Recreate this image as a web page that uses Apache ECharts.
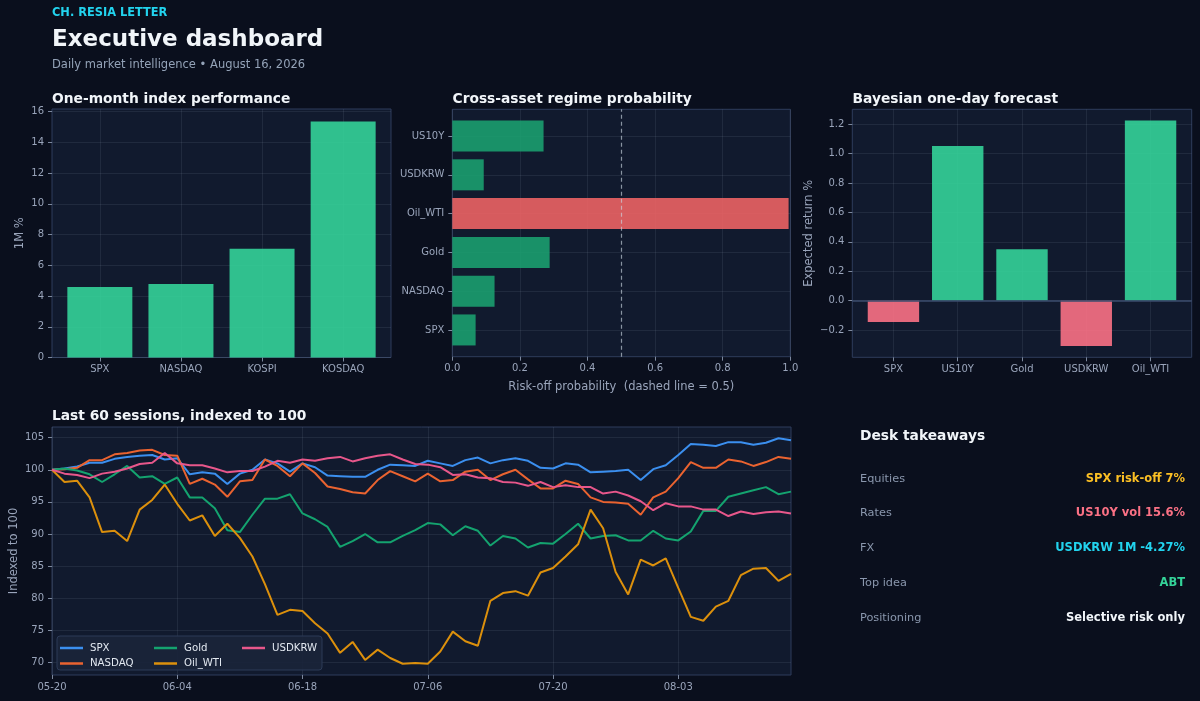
<!DOCTYPE html>
<html><head><meta charset="utf-8">
<script src="https://cdn.jsdelivr.net/npm/echarts@6/dist/echarts.min.js"></script>
<style>html,body{margin:0;padding:0;background:#0a0f1d;}#c{width:1200px;height:701px;}</style>
</head><body><div id="c"></div>
<script>
// ---------- data ----------
const perfCats = ['SPX', 'NASDAQ', 'KOSPI', 'KOSDAQ'];
const perfVals = [4.58, 4.78, 7.08, 15.35];
const perfTicks = [0, 2, 4, 6, 8, 10, 12, 14, 16];

const regimeCats = ['SPX', 'NASDAQ', 'Gold', 'Oil_WTI', 'USDKRW', 'US10Y'];
const regimeVals = [0.069, 0.125, 0.288, 0.995, 0.093, 0.27];
const regimeTicks = [0, 0.2, 0.4, 0.6, 0.8, 1.0];
const regimeThreshold = 0.5;

const fcCats = ['SPX', 'US10Y', 'Gold', 'USDKRW', 'Oil_WTI'];
const fcVals = [-0.145, 1.053, 0.349, -0.309, 1.225];
const fcTicks = [-0.2, 0, 0.2, 0.4, 0.6, 0.8, 1.0, 1.2];

const sessionDates = ['05-20','05-21','05-22','05-26','05-27','05-28','05-29','06-01','06-02','06-03',
  '06-04','06-05','06-08','06-09','06-10','06-11','06-12','06-15','06-16','06-17',
  '06-18','06-22','06-23','06-24','06-25','06-26','06-29','06-30','07-01','07-02',
  '07-06','07-07','07-08','07-09','07-10','07-13','07-14','07-15','07-16','07-17',
  '07-20','07-21','07-22','07-23','07-24','07-27','07-28','07-29','07-30','07-31',
  '08-03','08-04','08-05','08-06','08-07','08-10','08-11','08-12','08-13','08-14'];
const lineTicks = [70, 75, 80, 85, 90, 95, 100, 105];

const spx = [100.0,100.2,100.5,101.1,101.1,101.7,102.0,102.2,102.3,101.6,
  101.8,99.3,99.6,99.4,97.8,99.4,100.0,101.6,101.0,99.7,
  101.0,100.4,99.1,99.0,98.9,98.9,100.0,100.8,100.7,100.6,
  101.4,101.0,100.6,101.5,101.9,101.0,101.5,101.8,101.4,100.3,
  100.2,101.0,100.8,99.6,99.7,99.8,100.0,98.4,100.1,100.7,
  102.3,104.0,103.9,103.7,104.3,104.3,103.9,104.2,104.9,104.6];
const nasdaq = [100.0,100.1,100.3,101.5,101.5,102.4,102.6,103.0,103.1,102.3,
  102.2,97.8,98.6,97.7,95.8,98.2,98.4,101.6,100.6,99.0,
  101.0,99.5,97.4,97.0,96.5,96.3,98.4,99.8,99.0,98.2,
  99.4,98.2,98.4,99.7,100.0,98.4,99.3,100.0,98.5,97.1,
  97.1,98.3,97.8,95.7,95.0,94.9,94.7,93.0,95.7,96.6,
  98.7,101.2,100.3,100.3,101.6,101.3,100.6,101.2,102.0,101.7];
const gold = [100.0,100.2,99.9,99.3,98.1,99.3,100.6,98.8,99.0,97.8,
  98.8,95.7,95.7,94.0,90.6,90.3,93.0,95.5,95.5,96.2,
  93.2,92.3,91.1,88.0,88.9,90.0,88.7,88.7,89.7,90.6,
  91.7,91.5,89.8,91.2,90.5,88.2,89.7,89.3,87.9,88.6,
  88.5,90.0,91.6,89.3,89.7,89.8,89.0,89.0,90.5,89.3,
  89.0,90.4,93.6,93.6,95.8,96.3,96.8,97.3,96.2,96.6];
const oilWti = [100.0,98.1,98.3,95.7,90.3,90.5,88.9,93.8,95.3,97.7,
  94.7,92.1,92.9,89.7,91.6,89.4,86.5,82.2,77.4,78.2,
  78.0,76.1,74.5,71.5,73.2,70.4,72.0,70.7,69.8,69.9,
  69.8,71.7,74.8,73.3,72.6,79.6,80.8,81.1,80.4,84.0,
  84.7,86.5,88.4,93.8,90.9,84.1,80.6,86.0,85.1,86.2,
  81.6,77.1,76.5,78.7,79.6,83.6,84.6,84.7,82.7,83.8];
const usdkrw = [100.0,99.4,99.2,98.7,99.4,99.7,100.2,100.9,101.1,102.6,
  101.0,100.7,100.7,100.2,99.6,99.8,99.8,100.5,101.4,101.1,
  101.6,101.4,101.8,102.0,101.3,101.8,102.2,102.4,101.6,100.9,
  100.8,100.4,99.2,99.3,98.8,98.7,98.1,98.0,97.5,98.1,
  97.3,97.6,97.3,97.3,96.3,96.6,96.0,95.1,93.7,94.8,
  94.3,94.3,93.8,93.8,92.8,93.5,93.1,93.4,93.5,93.2];

const seriesNames = ['SPX', 'NASDAQ', 'Gold', 'Oil_WTI', 'USDKRW'];
const seriesData = [spx, nasdaq, gold, oilWti, usdkrw];
const seriesColors = ['#3b8fef', '#ea6330', '#14a36f', '#dc900c', '#e8578b'];

const takeawayLabels = ['Equities', 'Rates', 'FX', 'Top idea', 'Positioning'];
const takeawayValues = ['SPX risk-off 7%', 'US10Y vol 15.6%', 'USDKRW 1M -4.27%', 'ABT', 'Selective risk only'];
const takeawayColors = ['#fbbf24', '#fb7185', '#22d3ee', '#34d399', '#f1f5f9'];

// ---------- style ----------
const FONT = '"DejaVu Sans", "Noto Sans", sans-serif';
const LABEL = '#9aa5bb';
const BORDER = '#2f3d5c';
const TICK = '#7c889e';
const SPLIT = 'rgba(148,163,184,0.12)';
const PLOT_BG = '#111a2e';
const GREEN = '#34d399', RED = '#fb7185';
const G2 = '#1b9e6f', R2 = '#ec6364';

function gridBox(o, show) {
  return Object.assign({ show: show !== false, backgroundColor: PLOT_BG, borderColor: BORDER, borderWidth: 1, containLabel: false, outerBoundsMode: 'none' }, o);
}
function tickStyle(values) {
  return { show: true, length: 4, lineStyle: { color: TICK }, customValues: values };
}
function labelStyle(values, formatter, margin) {
  const o = { color: LABEL, fontSize: 10, fontFamily: FONT, margin: margin, customValues: values };
  if (formatter) o.formatter = formatter;
  return o;
}
function valAxis(o) {
  return Object.assign({
    type: 'value',
    axisLine: { show: false, onZero: false },
    splitLine: { show: true, lineStyle: { color: SPLIT, width: 1 } },
    nameTextStyle: { color: LABEL, fontSize: 11.5, fontFamily: FONT },
    nameMoveOverlap: false,
  }, o);
}
const fmt1 = v => (v < 0 ? '\u2212' : '') + Math.abs(v).toFixed(1);
const idx = arr => arr.map((_, i) => i);

const regimeUnit = 247.4 / 6.38;

const graphics = [
  { type: 'text', x: 52, y: 13, style: { text: 'CH. RESIA LETTER', fill: '#22d3ee', font: 'bold 11.4px ' + FONT, textVerticalAlign: 'middle' } },
  { type: 'text', x: 52, y: 40, style: { text: 'Executive dashboard', fill: '#f1f5f9', font: 'bold 23px ' + FONT, textVerticalAlign: 'middle' } },
  { type: 'text', x: 52, y: 65.5, style: { text: 'Daily market intelligence \u2022 August 16, 2026', fill: '#94a3b8', font: '11.5px ' + FONT, textVerticalAlign: 'middle' } },
  { type: 'text', x: 52, y: 99, style: { text: 'One-month index performance', fill: '#f1f5f9', font: 'bold 13.8px ' + FONT, textVerticalAlign: 'middle' } },
  { type: 'text', x: 452.5, y: 99, style: { text: 'Cross-asset regime probability', fill: '#f1f5f9', font: 'bold 13.8px ' + FONT, textVerticalAlign: 'middle' } },
  { type: 'text', x: 852.5, y: 99, style: { text: 'Bayesian one-day forecast', fill: '#f1f5f9', font: 'bold 13.8px ' + FONT, textVerticalAlign: 'middle' } },
  { type: 'text', x: 52, y: 416.5, style: { text: 'Last 60 sessions, indexed to 100', fill: '#f1f5f9', font: 'bold 13.8px ' + FONT, textVerticalAlign: 'middle' } },
  { type: 'text', x: 860, y: 436, style: { text: 'Desk takeaways', fill: '#f1f5f9', font: 'bold 13.8px ' + FONT, textVerticalAlign: 'middle' } },
  { type: 'rect', z: 3, shape: { x: 57, y: 636, width: 265, height: 34, r: 3 }, style: { fill: 'rgba(26,36,58,0.92)', stroke: '#2c3a56', lineWidth: 1 } },
];
const rowY = [479, 513.5, 548.5, 583, 618];
takeawayLabels.forEach((t, i) => {
  graphics.push({ type: 'text', x: 860, y: rowY[i], style: { text: t, fill: '#8a97ad', font: '11.3px ' + FONT, textVerticalAlign: 'middle' } });
  graphics.push({ type: 'text', x: 1185, y: rowY[i], style: { text: takeawayValues[i], fill: takeawayColors[i], font: 'bold 11.5px ' + FONT, textAlign: 'right', textVerticalAlign: 'middle' } });
});

const legendPos = [[60, 643], [60, 658.5], [154, 643], [154, 658.5], [242, 643]];
const legends = seriesNames.map((n, i) => ({
  data: [n], left: legendPos[i][0], top: legendPos[i][1], padding: 0, z: 10,
  icon: 'rect', itemWidth: 23, itemHeight: 2.5, itemGap: 0, selectedMode: false,
  textStyle: { color: '#e2e8f0', fontSize: 10.2, fontFamily: FONT, padding: [0, 0, 0, 2] },
}));

const option = {
  backgroundColor: '#0a0f1d',
  animation: false,
  textStyle: { fontFamily: FONT },
  graphic: graphics,
  legend: legends,
  grid: [
    gridBox({ left: 52, top: 109, width: 339, height: 248.5 }),
    gridBox({ left: 452.3, top: 109.3, width: 338, height: 247.4 }),
    gridBox({ left: 452.3, top: 109.3 + (0.69 - 0.5) * regimeUnit, width: 338, height: 6 * regimeUnit }, false),
    gridBox({ left: 852.3, top: 109.3, width: 339.4, height: 248 }),
    gridBox({ left: 52, top: 427, width: 739, height: 248 }),
  ],
  xAxis: [
    valAxis({ gridIndex: 0, min: -0.59, max: 3.59,
      axisLabel: labelStyle(idx(perfCats), v => perfCats[Math.round(v)], 7),
      axisTick: tickStyle(idx(perfCats)) }),
    valAxis({ gridIndex: 1, min: 0, max: 1,
      name: 'Risk-off probability  (dashed line = 0.5)', nameLocation: 'middle', nameGap: 24,
      axisLabel: labelStyle(regimeTicks, v => fmt1(v), 7),
      axisTick: tickStyle(regimeTicks) }),
    { type: 'value', gridIndex: 2, min: 0, max: 1, show: false },
    valAxis({ gridIndex: 3, min: -0.64, max: 4.64,
      axisLabel: labelStyle(idx(fcCats), v => fcCats[Math.round(v)], 7),
      axisTick: tickStyle(idx(fcCats)) }),
    { type: 'category', gridIndex: 4, data: sessionDates, boundaryGap: false,
      axisLine: { show: false, onZero: false },
      axisTick: { show: true, length: 4, interval: 9, lineStyle: { color: TICK } },
      axisLabel: { color: LABEL, fontSize: 10, fontFamily: FONT, margin: 7, interval: 9 },
      splitLine: { show: true, interval: 9, lineStyle: { color: SPLIT } } },
  ],
  yAxis: [
    valAxis({ gridIndex: 0, min: 0, max: 16.17, name: '1M %', nameLocation: 'middle', nameGap: 26,
      axisLabel: labelStyle(perfTicks, null, 8),
      axisTick: tickStyle(perfTicks) }),
    valAxis({ gridIndex: 1, min: -0.69, max: 5.69,
      axisLabel: labelStyle(idx(regimeCats), v => regimeCats[Math.round(v)], 8),
      axisTick: tickStyle(idx(regimeCats)) }),
    { type: 'category', gridIndex: 2, data: regimeCats, show: false },
    valAxis({ gridIndex: 3, min: -0.386, max: 1.302, name: 'Expected return %', nameLocation: 'middle', nameGap: 37,
      axisLabel: labelStyle(fcTicks, v => fmt1(v), 8),
      axisTick: tickStyle(fcTicks) }),
    valAxis({ gridIndex: 4, min: 68.05, max: 106.66, name: 'Indexed to 100', nameLocation: 'middle', nameGap: 32,
      axisLabel: labelStyle(lineTicks, null, 8),
      axisTick: tickStyle(lineTicks) }),
  ],
  series: [
    { type: 'bar', xAxisIndex: 0, yAxisIndex: 0, barWidth: 65,
      data: perfVals.map((v, i) => [i, v]),
      itemStyle: { color: GREEN, opacity: 0.9 } },
    { type: 'bar', xAxisIndex: 2, yAxisIndex: 2, barWidth: '80%', z: 2,
      data: regimeVals.map(v => ({ value: v, itemStyle: { color: v >= regimeThreshold ? R2 : G2, opacity: 0.9 } })) },
    { type: 'line', xAxisIndex: 1, yAxisIndex: 1, data: [], z: 5,
      markLine: { silent: true, symbol: ['none', 'none'], label: { show: false },
        lineStyle: { type: [4, 3], color: 'rgba(203,213,225,0.65)', width: 1.2 },
        data: [{ xAxis: regimeThreshold }] } },
    { type: 'bar', xAxisIndex: 3, yAxisIndex: 3, barWidth: 51.4,
      data: fcVals.map((v, i) => ({ value: [i, v], itemStyle: { color: v >= 0 ? GREEN : RED, opacity: 0.9 } })),
      markLine: { silent: true, symbol: ['none', 'none'], label: { show: false },
        lineStyle: { type: 'solid', color: '#3b4c6e', width: 1.5 },
        data: [{ yAxis: 0 }] } },
  ].concat(seriesNames.map((n, i) => ({
    type: 'line', name: n, xAxisIndex: 4, yAxisIndex: 4, data: seriesData[i],
    showSymbol: false, symbol: 'none', color: seriesColors[i],
    lineStyle: { width: 2, color: seriesColors[i] }, itemStyle: { color: seriesColors[i] },
  }))),
};

const chart = echarts.init(document.getElementById('c'), null, { renderer: 'canvas', width: 1200, height: 701 });
chart.setOption(option);
</script>
</body></html>
